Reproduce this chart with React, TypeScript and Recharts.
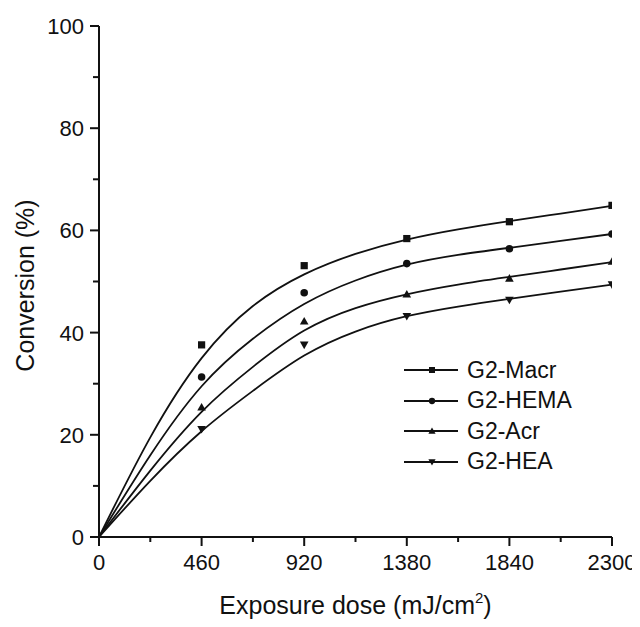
import { ComposedChart, Legend, Line, Scatter, XAxis, YAxis } from 'recharts';

const FONT = '"Liberation Sans", Arial, Helvetica, sans-serif';
const INK = '#111';

// axis ticks (minor ticks have no label)
const doseTicks = [0, 230, 460, 690, 920, 1150, 1380, 1610, 1840, 2070, 2300];
const doseLabels = [0, 460, 920, 1380, 1840, 2300];
const conversionTicks = [0, 10, 20, 30, 40, 50, 60, 70, 80, 90, 100];
const conversionLabels = [0, 20, 40, 60, 80, 100];

// measured conversion (%) at each exposure dose
const measuredDose = [460, 920, 1380, 1840, 2300];
const macrMeasured = [37.6, 53.1, 58.4, 61.7, 64.9];
const hemaMeasured = [31.3, 47.8, 53.5, 56.4, 59.3];
const acrMeasured = [25.4, 42.2, 47.5, 50.6, 53.9];
const heaMeasured = [21.1, 37.6, 43.2, 46.4, 49.4];

// fitted curves
const fitDose = [0, 230, 460, 690, 920, 1150, 1380, 1610, 1840, 2070, 2300];
const macrFit = [0, 19.5, 35.0, 45.2, 51.4, 55.4, 58.2, 60.2, 61.8, 63.3, 64.8];
const hemaFit = [0, 16.0, 29.5, 38.8, 45.6, 50.2, 53.3, 55.2, 56.6, 57.95, 59.3];
const acrFit = [0, 13.0, 24.5, 33.3, 40.4, 44.8, 47.5, 49.4, 50.9, 52.35, 53.8];
const heaFit = [0, 11.0, 20.7, 28.6, 35.5, 40.2, 43.2, 45.1, 46.6, 48.0, 49.4];

type MarkerKind = 'square' | 'circle' | 'up' | 'down';

const series: { key: string; name: string; marker: MarkerKind; measured: number[] }[] = [
  { key: 'macr', name: 'G2-Macr', marker: 'square', measured: macrMeasured },
  { key: 'hema', name: 'G2-HEMA', marker: 'circle', measured: hemaMeasured },
  { key: 'acr', name: 'G2-Acr', marker: 'up', measured: acrMeasured },
  { key: 'hea', name: 'G2-HEA', marker: 'down', measured: heaMeasured },
];

const fitData = fitDose.map((dose, i) => ({
  dose,
  macr: macrFit[i],
  hema: hemaFit[i],
  acr: acrFit[i],
  hea: heaFit[i],
}));

function marker(kind: MarkerKind, cx: number, cy: number, r: number) {
  switch (kind) {
    case 'square':
      return <rect x={cx - r} y={cy - r} width={r * 2} height={r * 2} fill={INK} />;
    case 'circle':
      return <circle cx={cx} cy={cy} r={r * 1.05} fill={INK} />;
    case 'up':
      return (
        <polygon
          points={`${cx},${cy - r * 1.2} ${cx + r * 1.2},${cy + r * 0.9} ${cx - r * 1.2},${cy + r * 0.9}`}
          fill={INK}
        />
      );
    default:
      return (
        <polygon
          points={`${cx},${cy + r * 1.2} ${cx + r * 1.2},${cy - r * 0.9} ${cx - r * 1.2},${cy - r * 0.9}`}
          fill={INK}
        />
      );
  }
}

const XTick = (props: any) => {
  const { x, y, payload } = props;
  const major = doseLabels.includes(payload.value);
  return (
    <g>
      <line x1={x} y1={y} x2={x} y2={y + (major ? 9 : 5)} stroke={INK} strokeWidth={2} />
      {major && (
        <text x={x} y={y + 33} textAnchor="middle" fontSize={22} fontFamily={FONT} fill={INK}>
          {payload.value}
        </text>
      )}
    </g>
  );
};

const YTick = (props: any) => {
  const { x, y, payload } = props;
  const major = conversionLabels.includes(payload.value);
  return (
    <g>
      <line x1={x - (major ? 9 : 6)} y1={y} x2={x} y2={y} stroke={INK} strokeWidth={2} />
      {major && (
        <text x={x - 15} y={y + 8} textAnchor="end" fontSize={22} fontFamily={FONT} fill={INK}>
          {payload.value}
        </text>
      )}
    </g>
  );
};

const YTitle = (props: any) => {
  const vb = props.viewBox;
  const cx = vb.x + 17;
  const cy = vb.y + vb.height / 2 + 4;
  return (
    <text
      x={cx}
      y={cy}
      transform={`rotate(-90 ${cx} ${cy})`}
      textAnchor="middle"
      dominantBaseline="central"
      fontSize={25}
      fontFamily={FONT}
      fill={INK}
    >
      Conversion (%)
    </text>
  );
};

const XTitle = (props: any) => {
  const vb = props.viewBox;
  return (
    <text x={vb.x + vb.width / 2} y={vb.y + 77} textAnchor="middle" fontSize={25} fontFamily={FONT} fill={INK}>
      Exposure dose (mJ/cm
      <tspan dy={-11} fontSize={15}>
        2
      </tspan>
      <tspan dy={11}>)</tspan>
    </text>
  );
};

// legend keeps the series order, not the sorted payload order
const LegendBox = () => (
  <div style={{ fontFamily: FONT, fontSize: 23, color: INK }}>
    {series.map((s) => (
      <div key={s.key} style={{ display: 'flex', alignItems: 'center', height: 30.5, whiteSpace: 'nowrap' }}>
        <svg width={63} height={30} style={{ display: 'block' }}>
          <line x1={0} y1={15} x2={54} y2={15} stroke={INK} strokeWidth={1.8} />
          {marker(s.marker, 28, 15, 3)}
        </svg>
        <span>{s.name}</span>
      </div>
    ))}
  </div>
);

export default function App() {
  return (
    <div style={{ width: 632, height: 619, background: '#fff' }}>
      <ComposedChart width={632} height={619} data={fitData} margin={{ top: 18, right: 28, left: 0, bottom: 0 }}>
        <XAxis
          dataKey="dose"
          type="number"
          domain={[0, 2300]}
          ticks={doseTicks}
          interval={0}
          allowDataOverflow
          height={90}
          tickSize={0}
          tickMargin={0}
          tickLine={false}
          tick={<XTick />}
          axisLine={{ stroke: INK, strokeWidth: 2 }}
          label={{ content: <XTitle /> }}
        />
        <YAxis
          type="number"
          domain={[0, 100]}
          ticks={conversionTicks}
          interval={0}
          width={91}
          tickSize={0}
          tickMargin={0}
          tickLine={false}
          tick={<YTick />}
          axisLine={{ stroke: INK, strokeWidth: 2 }}
          label={{ content: <YTitle /> }}
        />
        <YAxis
          yAxisId="frame"
          orientation="right"
          type="number"
          domain={[0, 100]}
          width={0}
          tick={false}
          tickLine={false}
          axisLine={{ stroke: INK, strokeWidth: 2 }}
        />
        <Legend
          layout="vertical"
          align="center"
          verticalAlign="middle"
          wrapperStyle={{ left: 396, top: 347, width: 'auto' }}
          content={<LegendBox />}
        />
        {series.map((s) => (
          <Line
            key={s.key}
            type="natural"
            dataKey={s.key}
            name={s.name}
            stroke={INK}
            strokeWidth={1.8}
            dot={false}
            activeDot={false}
            isAnimationActive={false}
          />
        ))}
        {series.map((s) => (
          <Scatter
            key={`${s.key}-pts`}
            name={`${s.name} measured`}
            data={measuredDose.map((dose, i) => ({ dose, value: s.measured[i] }))}
            dataKey="value"
            legendType="none"
            isAnimationActive={false}
            shape={(p: any) => marker(s.marker, p.cx, p.cy, 3.6)}
          />
        ))}
      </ComposedChart>
    </div>
  );
}
